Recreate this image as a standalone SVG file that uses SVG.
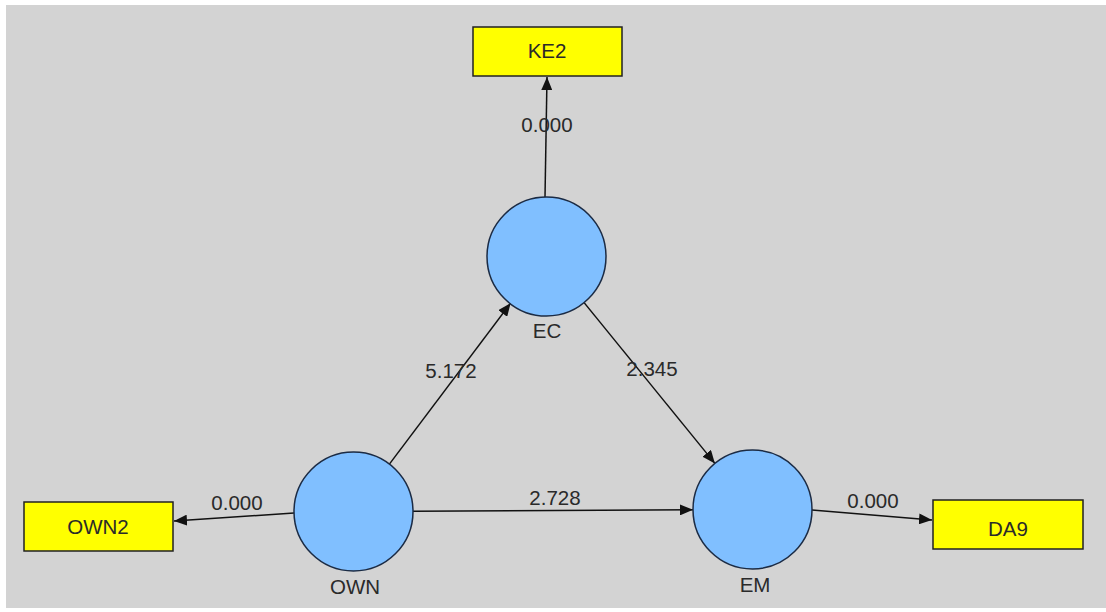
<svg xmlns="http://www.w3.org/2000/svg" width="1106" height="612" viewBox="0 0 1106 612">
<defs>
<style>
.bg{fill:#d3d3d3}
.box{fill:#ffff00;stroke:#222;stroke-width:1.5}
.lat{fill:#80bfff;stroke:#1b2b44;stroke-width:1.5}
.t{font-family:"Liberation Sans",Arial,sans-serif;font-size:20.5px;fill:#2a2a2a;text-anchor:middle}
.c{stroke:#111;stroke-width:1.5;fill:none;marker-end:url(#ah)}
</style>
<marker id="ah" viewBox="0 0 13 11" refX="13" refY="5.5" markerWidth="13" markerHeight="11" markerUnits="userSpaceOnUse" orient="auto">
<path d="M0,0 L13,5.5 L0,11 Z" fill="#111"/>
</marker>
</defs>
<rect x="0" y="0" width="1106" height="612" fill="#ffffff"/>
<rect class="bg" x="6" y="5" width="1100" height="603"/>
<g id="connectors">
<line class="c" x1="545" y1="197" x2="547" y2="77"/>
<line class="c" x1="389.4" y1="464.1" x2="510.6" y2="303.1"/>
<line class="c" x1="584.1" y1="302.6" x2="714.9" y2="463.4"/>
<line class="c" x1="413" y1="511.2" x2="693" y2="509.8"/>
<line class="c" x1="294" y1="513" x2="174" y2="521"/>
<line class="c" x1="812" y1="510" x2="932" y2="520"/>
<text class="t" x="547" y="132">0.000</text>
<text class="t" x="451" y="378">5.172</text>
<text class="t" x="652" y="376">2.345</text>
<text class="t" x="555" y="505">2.728</text>
<text class="t" x="237" y="510">0.000</text>
<text class="t" x="873" y="508">0.000</text>
</g>
<g id="KE2">
<rect class="box" x="473" y="27" width="149" height="49"/>
<text class="t" x="547" y="58">KE2</text>
</g>
<g id="OWN2">
<rect class="box" x="24" y="502" width="149" height="49"/>
<text class="t" x="98" y="534">OWN2</text>
</g>
<g id="DA9">
<rect class="box" x="933" y="500" width="150" height="49"/>
<text class="t" x="1008" y="536">DA9</text>
</g>
<g id="EC">
<circle class="lat" cx="546.5" cy="256.5" r="59.5"/>
<text class="t" x="547" y="338">EC</text>
</g>
<g id="OWN">
<circle class="lat" cx="353.5" cy="511.5" r="59.5"/>
<text class="t" x="355" y="594">OWN</text>
</g>
<g id="EM">
<circle class="lat" cx="752.5" cy="509.5" r="59.5"/>
<text class="t" x="755" y="592">EM</text>
</g>
</svg>
